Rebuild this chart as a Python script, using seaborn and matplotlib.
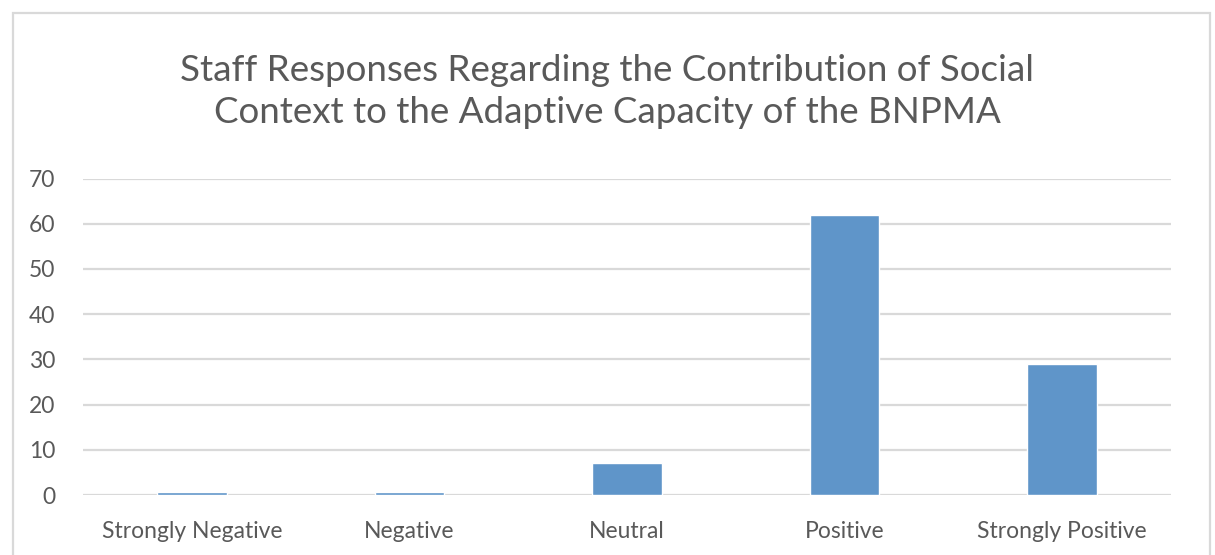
import matplotlib
matplotlib.use("Agg")
import matplotlib.pyplot as plt
import seaborn as sns
import pandas as pd
from matplotlib.patches import Rectangle

categories = ["Strongly Negative", "Negative", "Neutral", "Positive", "Strongly Positive"]
values = [0.6, 0.6, 7, 62, 29]
yticks = [0, 10, 20, 30, 40, 50, 60, 70]
title = "Staff Responses Regarding the Contribution of Social\nContext to the Adaptive Capacity of the BNPMA"

sns.set_theme(style="white")
plt.rcParams['font.family'] = ['Lato', 'DejaVu Sans']

df = pd.DataFrame({"cat": categories, "val": values})

fig = plt.figure(figsize=(12.15, 5.55), dpi=100)
ax = fig.add_axes([83/1215, 1 - 495/555, (1171-83)/1215, (495-178.5)/555])

sns.barplot(data=df, x="cat", y="val", color="#5F95C9", width=0.32, saturation=1, ax=ax, zorder=3)

ax.set_ylim(0, 70)
ax.set_yticks(yticks)
ax.yaxis.grid(True, color="#D9D9D9", linewidth=1.6, zorder=0)
ax.set_axisbelow(True)
for s in ax.spines.values():
    s.set_visible(False)
ax.set_xlabel("")
ax.set_ylabel("")
ax.tick_params(axis="both", length=0, labelsize=16.5, labelcolor="#595959")
ax.tick_params(axis="y", pad=20)
ax.tick_params(axis="x", pad=18.5)

fig.text(0.5, 1 - 91.5/555, title, ha="center", va="center", fontsize=26.5,
         color="#595959", linespacing=1.3)

fig.patches.append(Rectangle((12.5/1215, -0.05), (1210-12.5)/1215, 1.05 - 12.5/555,
                             transform=fig.transFigure, fill=False,
                             edgecolor="#D9D9D9", linewidth=1.6))

fig.savefig("out.png", dpi=100)
